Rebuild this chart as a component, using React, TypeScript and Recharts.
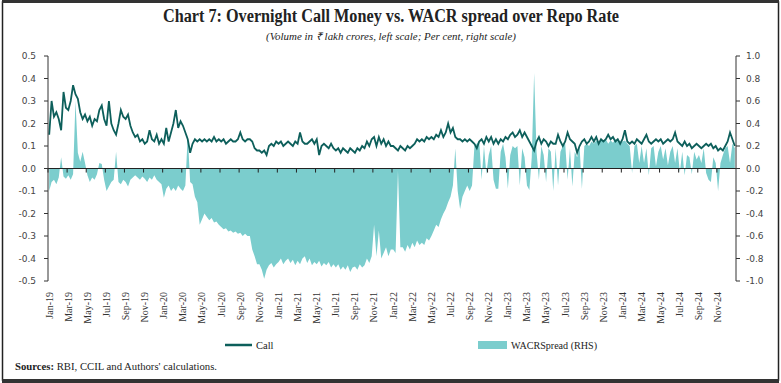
import React from 'react';
import { ComposedChart, Area, Line, XAxis, YAxis, ReferenceLine } from 'recharts';

// Weekly readings (4 per month), Jan..Dec of each year
const call2019 = [
  0.15, 0.30, 0.23, 0.25, 0.22, 0.17, 0.34, 0.27, 0.26, 0.30, 0.37, 0.33,
  0.31, 0.25, 0.22, 0.24, 0.21, 0.23, 0.19, 0.22, 0.21, 0.26, 0.28, 0.22,
  0.19, 0.30, 0.20, 0.17, 0.15, 0.20, 0.26, 0.23, 0.22, 0.24, 0.19, 0.16,
  0.14, 0.15, 0.12, 0.13, 0.11, 0.12, 0.17, 0.13, 0.12, 0.15, 0.11, 0.13,
];
const call2020 = [
  0.11, 0.18, 0.12, 0.16, 0.20, 0.26, 0.18, 0.21, 0.19, 0.16, 0.13, 0.07,
  0.11, 0.13, 0.12, 0.13, 0.12, 0.13, 0.12, 0.13, 0.12, 0.14, 0.12, 0.13,
  0.12, 0.13, 0.11, 0.12, 0.13, 0.12, 0.12, 0.13, 0.16, 0.13, 0.12, 0.13,
  0.13, 0.12, 0.09, 0.08, 0.08, 0.07, 0.08, 0.06, 0.10, 0.11, 0.10, 0.12,
];
const call2021 = [
  0.11, 0.12, 0.10, 0.11, 0.12, 0.11, 0.10, 0.12, 0.11, 0.16, 0.12, 0.11,
  0.11, 0.12, 0.13, 0.11, 0.13, 0.06, 0.10, 0.11, 0.10, 0.09, 0.11, 0.09,
  0.08, 0.09, 0.07, 0.09, 0.08, 0.07, 0.09, 0.08, 0.07, 0.09, 0.08, 0.10,
  0.09, 0.12, 0.10, 0.13, 0.14, 0.10, 0.14, 0.11, 0.13, 0.10, 0.12, 0.10,
];
const call2022 = [
  0.10, 0.09, 0.08, 0.10, 0.09, 0.08, 0.10, 0.09, 0.10, 0.11, 0.13, 0.12,
  0.13, 0.12, 0.14, 0.13, 0.14, 0.13, 0.15, 0.14, 0.17, 0.14, 0.16, 0.20,
  0.16, 0.18, 0.14, 0.13, 0.13, 0.12, 0.13, 0.12, 0.13, 0.12, 0.11, 0.09,
  0.12, 0.13, 0.11, 0.14, 0.12, 0.14, 0.11, 0.13, 0.11, 0.13, 0.12, 0.14,
];
const call2023 = [
  0.13, 0.15, 0.16, 0.14, 0.15, 0.17, 0.14, 0.16, 0.14, 0.12, 0.10, 0.08,
  0.12, 0.14, 0.11, 0.13, 0.12, 0.10, 0.12, 0.11, 0.11, 0.15, 0.12, 0.10,
  0.12, 0.16, 0.13, 0.12, 0.11, 0.07, 0.10, 0.12, 0.13, 0.11, 0.12, 0.14,
  0.12, 0.14, 0.11, 0.13, 0.12, 0.13, 0.15, 0.13, 0.14, 0.12, 0.13, 0.11,
];
const call2024 = [
  0.13, 0.17, 0.12, 0.11, 0.12, 0.11, 0.13, 0.12, 0.11, 0.13, 0.15, 0.12,
  0.11, 0.12, 0.13, 0.12, 0.13, 0.11, 0.12, 0.13, 0.12, 0.13, 0.16, 0.12,
  0.11, 0.10, 0.12, 0.10, 0.11, 0.09, 0.10, 0.11, 0.10, 0.09, 0.10, 0.11,
  0.10, 0.11, 0.09, 0.10, 0.08, 0.09, 0.08, 0.10, 0.12, 0.16, 0.13, 0.10,
];

const spread2019 = [
  -0.20, -0.12, -0.10, -0.14, -0.08, 0.10, -0.07, -0.09, -0.06, -0.10, -0.05, 0.60,
  0.14, 0.06, 0.15, 0.05, -0.06, -0.12, -0.08, -0.10, -0.05, 0.05, 0.04, -0.10,
  -0.20, -0.16, -0.12, -0.10, 0.15, -0.12, -0.14, -0.10, -0.12, -0.16, -0.10, -0.08,
  -0.06, -0.08, -0.10, -0.07, -0.09, -0.12, -0.08, -0.10, -0.06, -0.10, -0.12, -0.14,
];
const spread2020 = [
  -0.26, -0.18, -0.15, -0.20, -0.17, -0.20, -0.15, -0.18, -0.20, -0.15, 0.30, -0.12,
  -0.14, -0.25, -0.30, -0.50, -0.45, -0.40, -0.43, -0.46, -0.44, -0.48, -0.47, -0.50,
  -0.52, -0.54, -0.53, -0.56, -0.55, -0.57, -0.56, -0.58, -0.57, -0.60, -0.58, -0.60,
  -0.60, -0.72, -0.78, -0.85, -0.85, -0.90, -0.98, -0.90, -0.86, -0.84, -0.88, -0.85,
];
const spread2021 = [
  -0.83, -0.80, -0.85, -0.82, -0.80, -0.84, -0.81, -0.86, -0.82, -0.85, -0.80, -0.78,
  -0.84, -0.80, -0.86, -0.83, -0.85, -0.82, -0.87, -0.84, -0.86, -0.83, -0.88, -0.85,
  -0.88, -0.85, -0.90, -0.87, -0.90, -0.86, -0.92, -0.88, -0.87, -0.90, -0.85, -0.88,
  -0.86, -0.80, -0.84, -0.78, -0.50, -0.78, -0.55, -0.80, -0.75, -0.70, -0.78, -0.72,
];
const spread2022 = [
  -0.72, -0.75, -0.02, -0.70, -0.70, -0.74, -0.68, -0.72, -0.66, -0.70, -0.64, -0.68,
  -0.66, -0.68, -0.62, -0.64, -0.60, -0.55, -0.50, -0.52, -0.45, -0.40, -0.36, -0.30,
  -0.25, -0.15, 0.18, -0.20, -0.36, -0.25, -0.20, -0.15, -0.20, -0.15, 0.20, 0.22,
  0.25, -0.10, 0.20, -0.05, 0.12, 0.20, -0.10, -0.18, -0.18, 0.15, 0.22, 0.10,
];
const spread2023 = [
  -0.18, 0.12, 0.20, 0.18, 0.20, -0.15, 0.18, 0.10, -0.15, -0.19, 0.10, 0.85,
  0.15, -0.10, 0.20, 0.12, -0.12, 0.18, 0.15, -0.20, 0.18, -0.15, 0.15, 0.20,
  0.22, -0.10, 0.18, -0.16, 0.15, 0.10, 0.20, -0.18, 0.20, 0.22, 0.20, 0.24,
  0.22, 0.25, 0.23, 0.26, 0.24, 0.26, 0.22, 0.25, 0.23, 0.26, 0.24, 0.22,
];
const spread2024 = [
  0.24, 0.25, 0.22, 0.20, -0.04, 0.20, 0.22, 0.05, 0.20, 0.05, 0.18, -0.06,
  0.18, 0.20, 0.02, 0.15, 0.20, 0.08, 0.18, 0.03, 0.15, 0.20, 0.05, 0.18,
  -0.03, 0.15, -0.06, 0.12, 0.10, -0.05, 0.15, 0.08, 0.12, 0.05, 0.18, -0.04,
  -0.10, -0.12, 0.10, 0.05, -0.20, 0.05, 0.12, 0.18, 0.20, 0.05, 0.22, 0.18,
];

const tickLabels = [
  'Jan-19', 'Mar-19', 'May-19', 'Jul-19', 'Sep-19', 'Nov-19',
  'Jan-20', 'Mar-20', 'May-20', 'Jul-20', 'Sep-20', 'Nov-20',
  'Jan-21', 'Mar-21', 'May-21', 'Jul-21', 'Sep-21', 'Nov-21',
  'Jan-22', 'Mar-22', 'May-22', 'Jul-22', 'Sep-22', 'Nov-22',
  'Jan-23', 'Mar-23', 'May-23', 'Jul-23', 'Sep-23', 'Nov-23',
  'Jan-24', 'Mar-24', 'May-24', 'Jul-24', 'Sep-24', 'Nov-24',
];
const leftTicks = [-0.5, -0.4, -0.3, -0.2, -0.1, 0, 0.1, 0.2, 0.3, 0.4, 0.5];
const rightTicks = [-1, -0.8, -0.6, -0.4, -0.2, 0, 0.2, 0.4, 0.6, 0.8, 1];

const callAll = [...call2019, ...call2020, ...call2021, ...call2022, ...call2023, ...call2024];
const spreadAll = [...spread2019, ...spread2020, ...spread2021, ...spread2022, ...spread2023, ...spread2024];
const data = callAll.map((c, i) => ({ t: (i + 0.5) / 4, call: c, spread: spreadAll[i] }));
const xTicks = tickLabels.map((_, i) => i * 2);

const W = 781;
const H = 383;
const PLOT_TOP = 56;
const PLOT_H = 225;
const LINE_COLOR = '#0d5f5b';
const AREA_COLOR = '#7bcdcd';
const TICK_MARK_LEN = 0.018; // in left-axis units (~4px)

function XTick(props: any) {
  const { x, payload } = props;
  const label = tickLabels[Math.round(payload.value / 2)] || '';
  const lx = x + 4.5;
  const ly = 292;
  return (
    <text
      x={lx}
      y={ly}
      transform={`rotate(-90, ${lx}, ${ly})`}
      textAnchor="end"
      fontSize={10}
      fontFamily="'Liberation Serif', serif"
      fill="#333"
    >
      {label}
    </text>
  );
}

export default function App() {
  return (
    <div style={{ position: 'absolute', left: 0, top: 0, width: W, height: H, background: '#fff' }}>
      <ComposedChart width={W} height={H} data={data} margin={{ top: PLOT_TOP, right: 0, bottom: 0, left: 0 }}>
        <Area
          yAxisId="right"
          xAxisId="x"
          type="linear"
          dataKey="spread"
          fill={AREA_COLOR}
          fillOpacity={1}
          stroke="none"
          isAnimationActive={false}
        />
        <Line
          yAxisId="left"
          xAxisId="x"
          type="linear"
          dataKey="call"
          stroke={LINE_COLOR}
          strokeWidth={1.8}
          dot={false}
          isAnimationActive={false}
        />
        <ReferenceLine yAxisId="left" xAxisId="x" y={0} stroke="#222" strokeWidth={1} />
        {xTicks.map((t) => (
          <ReferenceLine
            key={t}
            yAxisId="left"
            xAxisId="x"
            segment={[{ x: t, y: 0 }, { x: t, y: -TICK_MARK_LEN }]}
            stroke="#222"
            strokeWidth={1}
          />
        ))}
        <XAxis
          xAxisId="x"
          type="number"
          dataKey="t"
          domain={[0, 72]}
          ticks={xTicks}
          interval={0}
          axisLine={false}
          tickLine={false}
          tickSize={0}
          height={H - PLOT_TOP - PLOT_H}
          tick={<XTick />}
          allowDataOverflow
        />
        <YAxis
          yAxisId="left"
          orientation="left"
          domain={[-0.5, 0.5]}
          ticks={leftTicks}
          interval={0}
          width={48}
          tickSize={4}
          tickMargin={8}
          axisLine={{ stroke: '#333' }}
          tickLine={{ stroke: '#333' }}
          tick={{ fontSize: 9, fill: '#444', fontFamily: "'DejaVu Sans', sans-serif" }}
          tickFormatter={(v: number) => v.toFixed(1)}
          allowDataOverflow
        />
        <YAxis
          yAxisId="right"
          orientation="right"
          domain={[-1, 1]}
          ticks={rightTicks}
          interval={0}
          width={45}
          tickSize={4}
          tickMargin={6}
          axisLine={{ stroke: '#333' }}
          tickLine={{ stroke: '#333' }}
          tick={{ fontSize: 9, fill: '#444', fontFamily: "'DejaVu Sans', sans-serif" }}
          tickFormatter={(v: number) => v.toFixed(1)}
          allowDataOverflow
        />
      </ComposedChart>
      <svg
        width={W}
        height={H}
        style={{ position: 'absolute', left: 0, top: 0, pointerEvents: 'none' }}
      >
        <rect x={2.5} y={2} width={776} height={378} fill="none" stroke="#222" strokeWidth={1.5} />
        <rect x={2} y={0} width={777} height={3} fill="#333" />
        <rect x={2} y={379} width={777} height={4} fill="#333" />
        <text
          x={391}
          y={22}
          textAnchor="middle"
          fontSize={18}
          fontWeight="bold"
          fontFamily="'Liberation Serif', serif"
          fill="#222"
          textLength={456}
          lengthAdjust="spacingAndGlyphs"
        >
          Chart 7: Overnight Call Money vs. WACR spread over Repo Rate
        </text>
        <text
          x={391}
          y={40}
          textAnchor="middle"
          fontSize={10.5}
          fontStyle="italic"
          fontFamily="'Liberation Serif', serif"
          fill="#222"
          textLength={250}
          lengthAdjust="spacingAndGlyphs"
        >
          (Volume in ₹ lakh crores, left scale; Per cent, right scale)
        </text>
        <line x1={225} x2={252} y1={345} y2={345} stroke={LINE_COLOR} strokeWidth={2.5} />
        <text x={256} y={349} fontSize={10.5} fontFamily="'Liberation Serif', serif" fill="#222">
          Call
        </text>
        <rect x={478} y={341} width={29} height={8} fill={AREA_COLOR} />
        <text
          x={511}
          y={349}
          fontSize={10.5}
          fontFamily="'Liberation Serif', serif"
          fill="#222"
          textLength={86}
          lengthAdjust="spacingAndGlyphs"
        >
          WACRSpread (RHS)
        </text>
        <text x={15} y={370} fontSize={10.5} fontFamily="'Liberation Serif', serif" fill="#222" textLength={202} lengthAdjust="spacingAndGlyphs">
          <tspan fontWeight="bold">Sources:</tspan> RBI, CCIL and Authors' calculations.
        </text>
      </svg>
    </div>
  );
}
